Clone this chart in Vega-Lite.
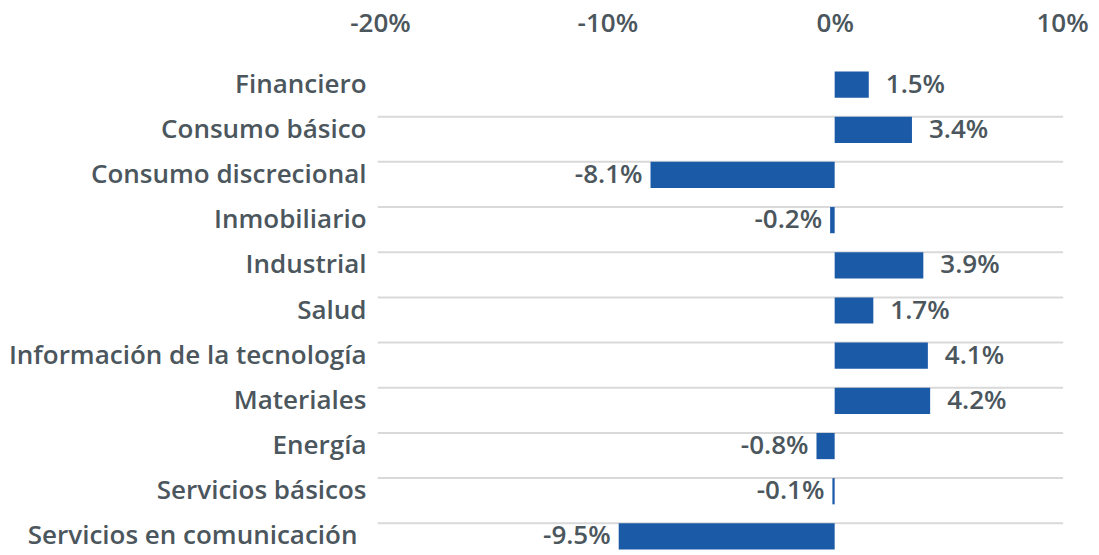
{
  "$schema": "https://vega.github.io/schema/vega-lite/v6.json",
  "autosize": {"type": "none"},
  "padding": {"left": 380, "top": 62, "right": 37, "bottom": 0},
  "width": 682,
  "height": 497,
  "background": "white",
  "config": {
    "view": {"stroke": null},
    "font": "Open Sans",
    "locale": {"number": {"decimal": ".", "thousands": ",", "grouping": [3], "currency": ["$", ""], "minus": "-", "percent": "%"}}
  },
  "data": {
    "values": [
      {"sector": "Financiero", "v": 0.015},
      {"sector": "Consumo básico", "v": 0.034},
      {"sector": "Consumo discrecional", "v": -0.081},
      {"sector": "Inmobiliario", "v": -0.002},
      {"sector": "Industrial", "v": 0.039},
      {"sector": "Salud", "v": 0.017},
      {"sector": "Información de la tecnología", "v": 0.041},
      {"sector": "Materiales", "v": 0.042},
      {"sector": "Energía", "v": -0.008},
      {"sector": "Servicios básicos", "v": -0.001},
      {"sector": "Servicios en comunicación", "v": -0.095}
    ]
  },
  "encoding": {
    "y": {
      "field": "sector",
      "type": "nominal",
      "sort": ["Financiero", "Consumo básico", "Consumo discrecional", "Inmobiliario", "Industrial", "Salud", "Información de la tecnología", "Materiales", "Energía", "Servicios básicos", "Servicios en comunicación"],
      "scale": {"paddingInner": 0.42, "paddingOuter": 0.21},
      "axis": {
        "title": null,
        "ticks": false,
        "domain": false,
        "grid": false,
        "labelFont": "Open Sans",
        "labelFontSize": 26,
        "labelFontWeight": 600,
        "labelColor": "#4b565d",
        "labelPadding": {"condition": {"test": "datum.value == 'Servicios en comunicación'", "value": 23}, "value": 14},
        "labelLimit": 400
      }
    }
  },
  "layer": [
    {
      "transform": [{"filter": "datum.sector != 'Financiero'"}],
      "mark": {"type": "rule", "color": "#d9d9d9", "strokeWidth": 2},
      "encoding": {
        "y": {"field": "sector", "type": "nominal", "sort": ["Financiero", "Consumo básico", "Consumo discrecional", "Inmobiliario", "Industrial", "Salud", "Información de la tecnología", "Materiales", "Energía", "Servicios básicos", "Servicios en comunicación"], "bandPosition": 0},
        "x": {"datum": -0.201},
        "x2": {"datum": 0.1005}
      }
    },
    {
      "mark": {"type": "bar", "color": "#1b5aa7"},
      "encoding": {
        "x": {
          "field": "v",
          "type": "quantitative",
          "scale": {"domain": [-0.2, 0.1], "nice": false, "zero": false},
          "axis": {
            "orient": "top",
            "title": null,
            "values": [-0.2, -0.1, 0, 0.1],
            "format": ".0%",
            "ticks": false,
            "domain": false,
            "grid": false,
            "labelFlush": false,
            "labelFont": "Open Sans",
            "labelFontSize": 26,
            "labelFontWeight": 600,
            "labelColor": "#4b565d",
            "labelPadding": 26,
            "labelDx": 3
          }
        }
      }
    },
    {
      "mark": {"type": "rule", "color": "#9a9a9a", "strokeWidth": 2},
      "encoding": {"x": {"datum": 0}}
    },
    {
      "transform": [{"filter": "datum.v > 0"}],
      "mark": {"type": "text", "align": "left", "baseline": "middle", "dx": 17, "font": "Open Sans", "fontSize": 26, "fontWeight": 600, "color": "#4b565d"},
      "encoding": {
        "x": {"field": "v", "type": "quantitative"},
        "text": {"field": "v", "type": "quantitative", "format": ".1%"}
      }
    },
    {
      "transform": [{"filter": "datum.v < 0"}],
      "mark": {"type": "text", "align": "right", "baseline": "middle", "dx": -8, "font": "Open Sans", "fontSize": 26, "fontWeight": 600, "color": "#4b565d"},
      "encoding": {
        "x": {"field": "v", "type": "quantitative"},
        "text": {"field": "v", "type": "quantitative", "format": ".1%"}
      }
    }
  ]
}
